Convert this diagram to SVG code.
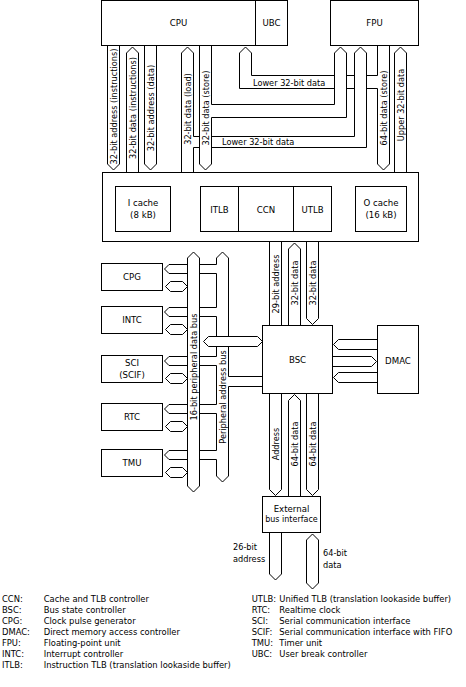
<svg xmlns="http://www.w3.org/2000/svg" width="466" height="687" viewBox="0 0 466 687">
<style>
.bx{fill:#fff;stroke:#000;stroke-width:1}
.ln{fill:none;stroke:#000;stroke-width:1}
text{font-family:"DejaVu Sans","Liberation Sans",sans-serif;fill:#000}
.n{font-size:8.6px;text-anchor:middle}
.s{font-size:8px}
.b{font-size:8.2px;text-anchor:middle}
.h{font-size:8.2px}
.lg{font-size:8.4px}
</style>
<rect width="466" height="687" fill="#fff"/>
<g id="connectors" class="ln">
<path d="M107.5,45.5 V164 L113.5,170 L119.5,164 V45.5"/>
<path d="M126.5,172.5 V53 L132.5,47 L138.5,53 V172.5"/>
<path d="M144.5,45.5 V164 L150.5,170 L156.5,164 V45.5"/>
<path d="M181.5,172.5 V53 L187.5,47 L193.5,53 V136.5 M193.5,147.5 V172.5"/>
<path d="M211.5,45.5 V104.5 M211.5,117.5 V164 L205.5,170 L199.5,164 V45.5"/>
<path d="M239.5,88.5 V53 L245.5,47 L251.5,53 V75.5 H334.5 M346.5,75.5 H354.5 M366.5,75.5 H377.5"/>
<path d="M239.5,88.5 H334.5 M346.5,88.5 H354.5 M366.5,88.5 H377.5"/>
<path d="M334.5,104.5 V53 L340.5,47 L346.5,53 V117.5 H211.5 M334.5,104.5 H211.5"/>
<path d="M354.5,136.5 V53 L360.5,47 L366.5,53 V147.5 H211.5 M199.5,147.5 H193.5 M354.5,136.5 H211.5 M199.5,136.5 H193.5"/>
<path d="M377.5,45.5 V75.5 M377.5,88.5 V164 L383.5,170 L389.5,164 V45.5"/>
<path d="M394.5,172.5 V53 L400.5,47 L406.5,53 V172.5"/>
<path d="M269.5,241.5 V325.5 M281.5,241.5 V325.5"/>
<path d="M288.5,325.5 V249 L294.5,243 L300.5,249 V325.5"/>
<path d="M306.5,241.5 V318.5 L312.5,324.5 L318.5,318.5 V241.5"/>
<path d="M269.5,393.5 V489.5 L275.5,495.5 L281.5,489.5 V393.5"/>
<path d="M288.5,496.5 V400.5 L294.5,394.5 L300.5,400.5 V496.5"/>
<path d="M306.5,393.5 V489.5 L312.5,495.5 L318.5,489.5 V393.5"/>
<path d="M269.5,532.5 V574 L275.5,580 L281.5,574 V532.5"/>
<path d="M306.5,540 L312.5,534 L318.5,540 V583 L312.5,589 L306.5,583 Z"/>
<path d="M377.5,339.5 H338.5 L333.5,344.5 L338.5,349.5 H377.5"/>
<path d="M332.5,356.5 H371.5 L376.5,361.5 L371.5,366.5 H332.5"/>
<path d="M377.5,372.5 H338.5 L333.5,377.5 L338.5,382.5 H377.5"/>
<path d="M187.5,486 V258 L193.5,252 L199.5,258 V486 L193.5,492 Z"/>
<path d="M216.5,258 V264.5 M216.5,273.5 V307.5 M216.5,316.5 V336.5 M216.5,346.5 V356.5 M216.5,365.5 V404.5 M216.5,413.5 V450.5 M216.5,459.5 V476 L222.5,482 L228.5,476 V386.5 M228.5,376.5 V346.5 M228.5,336.5 V258 L222.5,252 L216.5,258"/>
<path d="M208.5,336.5 H257.5 L262.5,341.5 L257.5,346.5 H208.5 L203.5,341.5 Z"/>
<path d="M228.5,376.5 H262.5 M228.5,386.5 H262.5"/>
<path d="M216.5,264.5 H199.5 M187.5,264.5 H169 L164.5,269 L169,273.5 H187.5 M199.5,273.5 H216.5"/>
<path d="M187.5,286.5 L182.5,281.5 H170.5 L165.5,286.5 L170.5,291.5 H182.5 Z"/>
<path d="M216.5,307.5 H199.5 M187.5,307.5 H169 L164.5,312 L169,316.5 H187.5 M199.5,316.5 H216.5"/>
<path d="M187.5,329.5 L182.5,324.5 H170.5 L165.5,329.5 L170.5,334.5 H182.5 Z"/>
<path d="M216.5,356.5 H199.5 M187.5,356.5 H169 L164.5,361 L169,365.5 H187.5 M199.5,365.5 H216.5"/>
<path d="M187.5,378.5 L182.5,373.5 H170.5 L165.5,378.5 L170.5,383.5 H182.5 Z"/>
<path d="M216.5,404.5 H199.5 M187.5,404.5 H169 L164.5,409 L169,413.5 H187.5 M199.5,413.5 H216.5"/>
<path d="M187.5,426.5 L182.5,421.5 H170.5 L165.5,426.5 L170.5,431.5 H182.5 Z"/>
<path d="M216.5,450.5 H199.5 M187.5,450.5 H169 L164.5,455 L169,459.5 H187.5 M199.5,459.5 H216.5"/>
<path d="M187.5,472.5 L182.5,467.5 H170.5 L165.5,472.5 L170.5,477.5 H182.5 Z"/>
</g>
<g id="bus-labels">
<text class="b" transform="translate(116.5,106.5) rotate(-90)">32-bit address (instructions)</text>
<text class="b" transform="translate(135.5,108) rotate(-90)">32-bit data (instructions)</text>
<text class="b" transform="translate(153.5,108) rotate(-90)">32-bit address (data)</text>
<text class="b" transform="translate(190.5,109) rotate(-90)">32-bit data (load)</text>
<text class="b" transform="translate(208.5,108) rotate(-90)">32-bit data (store)</text>
<text class="b" transform="translate(386.5,108) rotate(-90)">64-bit data (store)</text>
<text class="b" transform="translate(403.5,105) rotate(-90)">Upper 32-bit data</text>
<text class="h" x="253" y="85.5">Lower 32-bit data</text>
<text class="h" x="222" y="145">Lower 32-bit data</text>
<text class="b" transform="translate(278.5,284) rotate(-90)">29-bit address</text>
<text class="b" transform="translate(297.5,283) rotate(-90)">32-bit data</text>
<text class="b" transform="translate(315.5,283) rotate(-90)">32-bit data</text>
<text class="b" transform="translate(278.5,444) rotate(-90)">Address</text>
<text class="b" transform="translate(297.5,444) rotate(-90)">64-bit data</text>
<text class="b" transform="translate(315.5,444) rotate(-90)">64-bit data</text>
<text class="b" transform="translate(196.5,367) rotate(-90)">16-bit peripheral data bus</text>
<text class="b" transform="translate(225.5,397) rotate(-90)">Peripheral address bus</text>
<text class="h" x="233" y="550">26-bit</text>
<text class="h" x="233" y="561.5">address</text>
<text class="h" x="323" y="556">64-bit</text>
<text class="h" x="323" y="568">data</text>
</g>
<g id="cpu"><rect class="bx" x="101.5" y="0.5" width="154" height="45"/><text class="n" x="178.5" y="26">CPU</text></g>
<g id="ubc"><rect class="bx" x="255.5" y="0.5" width="32" height="45"/><text class="n" x="271.5" y="26">UBC</text></g>
<g id="fpu"><rect class="bx" x="330.5" y="0.5" width="88" height="45"/><text class="n" x="374.5" y="26">FPU</text></g>
<g id="cache-block">
<rect class="bx" x="102.5" y="172.5" width="316" height="69"/>
<g id="icache"><rect class="bx" x="115.5" y="186.5" width="55" height="45"/><text class="n" x="143" y="206">I cache</text><text class="n" x="143" y="217.7">(8 kB)</text></g>
<g id="itlb"><rect class="bx" x="200.5" y="186.5" width="38" height="45"/><text class="n" x="219.5" y="213">ITLB</text></g>
<g id="ccn"><rect class="bx" x="238.5" y="186.5" width="55" height="45"/><text class="n" x="266" y="213">CCN</text></g>
<g id="utlb"><rect class="bx" x="293.5" y="186.5" width="38" height="45"/><text class="n" x="312.5" y="213">UTLB</text></g>
<g id="ocache"><rect class="bx" x="355.5" y="186.5" width="51" height="45"/><text class="n" x="381" y="206">O cache</text><text class="n" x="381" y="217.7">(16 kB)</text></g>
</g>
<g id="cpg"><rect class="bx" x="101.5" y="263.5" width="61" height="27"/><text class="n" x="132" y="280">CPG</text></g>
<g id="intc"><rect class="bx" x="101.5" y="306.5" width="61" height="27"/><text class="n" x="132" y="323">INTC</text></g>
<g id="sci"><rect class="bx" x="101.5" y="355.5" width="61" height="27"/><text class="n" x="132" y="365.5">SCI</text><text class="n" x="132" y="377.5">(SCIF)</text></g>
<g id="rtc"><rect class="bx" x="101.5" y="403.5" width="61" height="27"/><text class="n" x="132" y="420">RTC</text></g>
<g id="tmu"><rect class="bx" x="101.5" y="449.5" width="61" height="27"/><text class="n" x="132" y="466">TMU</text></g>
<g id="bsc"><rect class="bx" x="262.5" y="325.5" width="70" height="68"/><text class="n" x="297.5" y="363">BSC</text></g>
<g id="dmac"><rect class="bx" x="377.5" y="325.5" width="41" height="68"/><text class="n" x="398" y="363.5">DMAC</text></g>
<g id="ebi"><rect class="bx" x="262.5" y="496.5" width="58" height="36"/><text class="n" x="291.5" y="511.5">External</text><text class="n s" x="291.5" y="521.7">bus interface</text></g>
<g id="legend">
<text class="lg" x="2" y="601.7">CCN:</text><text class="lg" x="43.7" y="601.7">Cache and TLB controller</text>
<text class="lg" x="2" y="612.8">BSC:</text><text class="lg" x="43.7" y="612.8">Bus state controller</text>
<text class="lg" x="2" y="623.9">CPG:</text><text class="lg" x="43.7" y="623.9">Clock pulse generator</text>
<text class="lg" x="2" y="635">DMAC:</text><text class="lg" x="43.7" y="635">Direct memory access controller</text>
<text class="lg" x="2" y="646.1">FPU:</text><text class="lg" x="43.7" y="646.1">Floating-point unit</text>
<text class="lg" x="2" y="657.2">INTC:</text><text class="lg" x="43.7" y="657.2">Interrupt controller</text>
<text class="lg" x="2" y="668.3">ITLB:</text><text class="lg" x="43.7" y="668.3">Instruction TLB (translation lookaside buffer)</text>
<text class="lg" x="251.7" y="601.7">UTLB:</text><text class="lg" x="279.3" y="601.7">Unified TLB (translation lookaside buffer)</text>
<text class="lg" x="251.7" y="612.8">RTC:</text><text class="lg" x="279.3" y="612.8">Realtime clock</text>
<text class="lg" x="251.7" y="623.9">SCI:</text><text class="lg" x="279.3" y="623.9">Serial communication interface</text>
<text class="lg" x="251.7" y="635">SCIF:</text><text class="lg" x="279.3" y="635">Serial communication interface with FIFO</text>
<text class="lg" x="251.7" y="646.1">TMU:</text><text class="lg" x="279.3" y="646.1">Timer unit</text>
<text class="lg" x="251.7" y="657.2">UBC:</text><text class="lg" x="279.3" y="657.2">User break controller</text>
</g>
</svg>
